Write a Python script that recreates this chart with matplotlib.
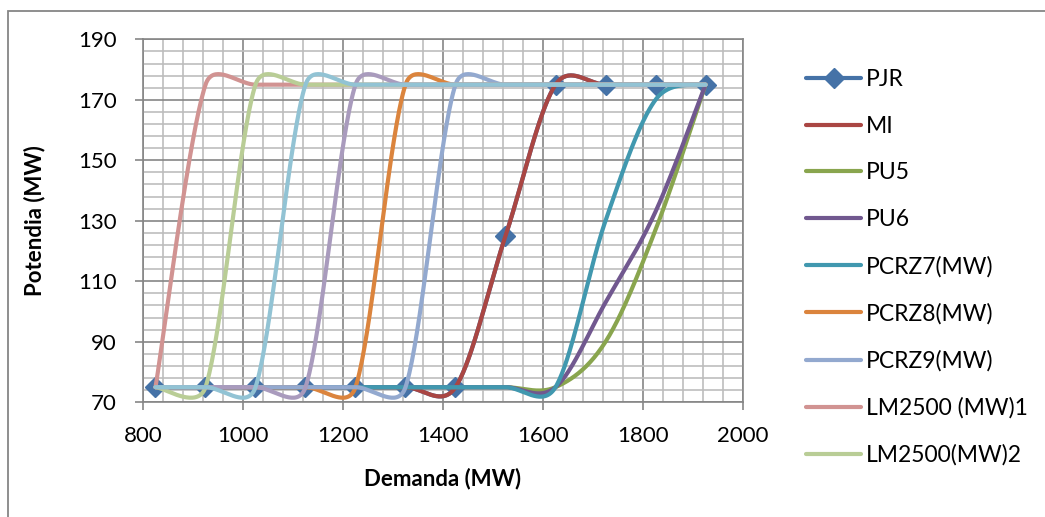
import numpy as np
import matplotlib
matplotlib.use('Agg')
import matplotlib.pyplot as plt
from matplotlib.patches import Rectangle

plt.rcParams['font.family'] = ['Lato', 'DejaVu Sans']

# Demand points (MW) shared by every series
demanda = [825, 925, 1025, 1125, 1225, 1325, 1425, 1525, 1625, 1725, 1825, 1925]

# Power (MW) for each unit
pjr = [75, 75, 75, 75, 75, 75, 75, 125, 175, 175, 175, 175]
mi = [75, 75, 75, 75, 75, 75, 75, 125, 175, 175, 175, 175]
pu5 = [75, 75, 75, 75, 75, 75, 75, 75, 75, 90, 127, 175]
pu6 = [75, 75, 75, 75, 75, 75, 75, 75, 75, 103, 133, 175]
pcrz7 = [75, 75, 75, 75, 75, 75, 75, 75, 75, 130, 170, 175]
pcrz8 = [75, 75, 75, 75, 75, 175, 175, 175, 175, 175, 175, 175]
pcrz9 = [75, 75, 75, 75, 75, 75, 175, 175, 175, 175, 175, 175]
lm1 = [75, 175, 175, 175, 175, 175, 175, 175, 175, 175, 175, 175]
lm2 = [75, 75, 175, 175, 175, 175, 175, 175, 175, 175, 175, 175]
# two more series that did not fit in the legend
serie10 = [75, 75, 75, 75, 175, 175, 175, 175, 175, 175, 175, 175]
serie11 = [75, 75, 75, 175, 175, 175, 175, 175, 175, 175, 175, 175]

series = [
    ('PJR', pjr, '#4572A7'),
    ('MI', mi, '#AA4643'),
    ('PU5', pu5, '#89A54E'),
    ('PU6', pu6, '#71588F'),
    ('PCRZ7(MW)', pcrz7, '#4198AF'),
    ('PCRZ8(MW)', pcrz8, '#DB843D'),
    ('PCRZ9(MW)', pcrz9, '#93A9CF'),
    ('LM2500 (MW)1', lm1, '#D19392'),
    ('LM2500(MW)2', lm2, '#B9CD96'),
    (None, serie10, '#A99BBD'),
    (None, serie11, '#92C3D4'),
]


def excel_smooth(ax, xs, ys, n=40):
    # Bezier smoothing like Excel's "smoothed line", done in display space
    pts = ax.transData.transform(np.column_stack([xs, ys]).astype(float))
    out = [pts[0]]
    t = np.linspace(0, 1, n)[1:, None]
    for i in range(len(pts) - 1):
        p0 = pts[i - 1] if i > 0 else pts[i]
        p1 = pts[i]
        p2 = pts[i + 1]
        p3 = pts[i + 2] if i + 2 < len(pts) else pts[i + 1]
        d12 = np.hypot(*(p2 - p1))
        d02 = np.hypot(*(p2 - p0))
        d13 = np.hypot(*(p3 - p1))
        if d02 / 6 < d12 / 2:
            c1 = p1 + (p2 - p0) / 6
        else:
            c1 = p1 + (p2 - p0) * d12 / 2 / d02
        if d13 / 6 < d12 / 2:
            c2 = p2 - (p3 - p1) / 6
        else:
            c2 = p2 - (p3 - p1) * d12 / 2 / d13
        seg = ((1 - t) ** 3) * p1 + 3 * ((1 - t) ** 2) * t * c1 \
            + 3 * (1 - t) * t ** 2 * c2 + t ** 3 * p2
        out.extend(seg)
    res = ax.transData.inverted().transform(np.array(out))
    return res[:, 0], res[:, 1]


W, H = 1045, 517
fig = plt.figure(figsize=(W / 100, H / 100), dpi=100)
ax = fig.add_axes([143 / W, 1 - 402.3 / H, 600 / W, 363 / H])
ax.set_xlim(800, 2000)
ax.set_ylim(70, 190)

ax.set_xticks(np.arange(800, 2001, 200))
ax.set_xticks(np.arange(800, 2001, 40), minor=True)
ax.set_yticks(np.arange(70, 191, 20))
ax.set_yticks(np.arange(70, 191, 4), minor=True)
ax.set_axisbelow(True)
ax.grid(which='minor', color='#BDBDBD', lw=1.2)
ax.grid(which='major', color='#868686', lw=1.2)
for s in ax.spines.values():
    s.set_color('#868686')
    s.set_linewidth(1.2)
ax.tick_params(which='major', length=6, width=1.2, color='#868686',
               labelsize=16, pad=11)
ax.tick_params(axis='y', which='major', pad=13)
ax.tick_params(which='minor', length=0)

handles = []
for k, (name, vals, col) in enumerate(series):
    sx, sy = excel_smooth(ax, demanda, vals)
    ln, = ax.plot(sx, sy, color=col, lw=3, solid_capstyle='round',
                  solid_joinstyle='round', zorder=3 + k)
    if name == 'PJR':
        ax.plot(demanda, vals, ls='none', marker='D', ms=10, color=col,
                zorder=3 + k)
        h, = ax.plot([], [], color=col, lw=3, marker='D', ms=10,
                     solid_capstyle='round')
    else:
        h = ln
    if name is not None:
        handles.append((h, name))

ax.set_xlabel('Demanda (MW)', fontsize=16, fontweight='bold')
ax.set_ylabel('Potendia (MW)', fontsize=16, fontweight='bold')
ax.xaxis.set_label_coords(0.5, -0.18)
ax.yaxis.set_label_coords(-0.162, 0.5)

ax.legend([h for h, _ in handles], [n for _, n in handles],
          loc='upper left', bbox_to_anchor=(806 / W, 1 - 69 / H),
          bbox_transform=fig.transFigure, frameon=False, fontsize=16.5,
          handlelength=2.4, handletextpad=0.2, labelspacing=1.12,
          borderpad=0, borderaxespad=0, numpoints=1)

fig.add_artist(Rectangle((7.5 / W, -0.1), 2, 1.1 - 10.5 / H,
                         transform=fig.transFigure, fill=False,
                         edgecolor='#868686', lw=1.3))

fig.savefig('out.png', dpi=100)
